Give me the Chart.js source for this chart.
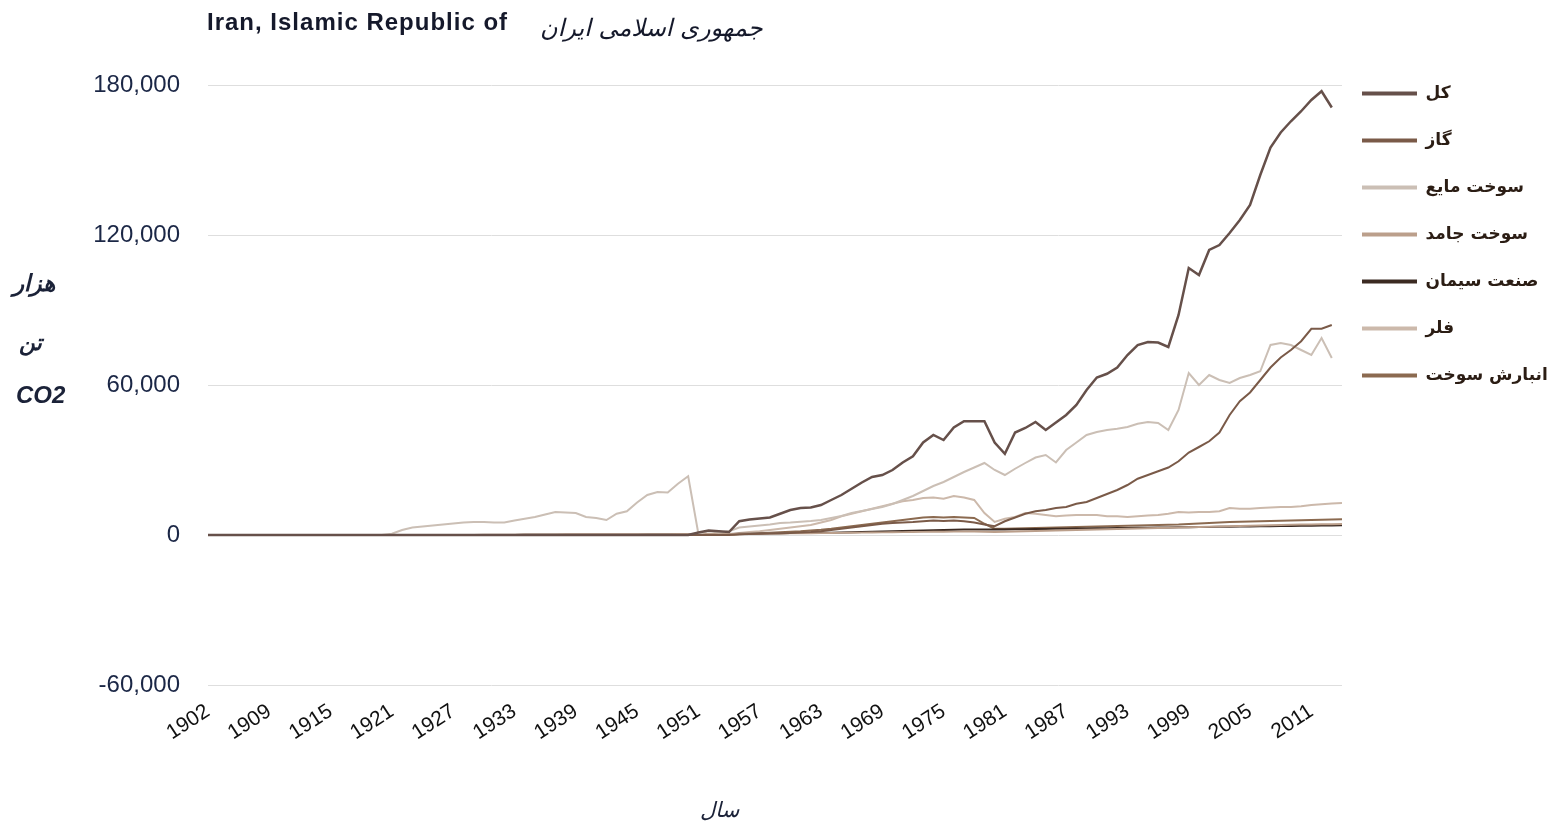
<!DOCTYPE html>
<html>
<head>
<meta charset="utf-8">
<script src="https://cdn.jsdelivr.net/npm/chart.js@4.4.0/dist/chart.umd.min.js"></script>
<style>
  html, body { margin: 0; padding: 0; background: #fff; }
  #wrap { position: relative; width: 1552px; height: 829px; }
  .t { position: absolute; white-space: nowrap; color: #1b2238; }
</style>
</head>
<body>
<div id="wrap">
  <canvas id="chart" width="1552" height="829"></canvas>
  <div class="t" style="left:207px;top:8px;font:bold 24px 'Liberation Sans',Arial,sans-serif;letter-spacing:1px;color:#15192b;">Iran, Islamic Republic of</div>
  <div class="t" dir="rtl" style="left:540px;top:14px;font:italic 24px 'DejaVu Sans',sans-serif;color:#15192b;">جمهوری اسلامی ایران</div>
  <div class="t" dir="rtl" style="left:13px;top:270px;font:italic bold 23px 'DejaVu Sans',sans-serif;">هزار</div>
  <div class="t" dir="rtl" style="left:19px;top:330px;font:italic bold 22px 'DejaVu Sans',sans-serif;">تن</div>
  <div class="t" style="left:16px;top:381px;font:italic bold 24px 'Liberation Sans',Arial,sans-serif;">CO2</div>
  <div class="t" dir="rtl" style="left:700px;top:798px;font:italic 21px 'DejaVu Sans',sans-serif;">سال</div>
</div>
<script>
// categories (the source skips 1903)
const years = [1902, 1904, 1905, 1906, 1907, 1908, 1909,
  1910, 1911, 1912, 1913, 1914, 1915, 1916, 1917, 1918, 1919,
  1920, 1921, 1922, 1923, 1924, 1925, 1926, 1927, 1928, 1929,
  1930, 1931, 1932, 1933, 1934, 1935, 1936, 1937, 1938, 1939,
  1940, 1941, 1942, 1943, 1944, 1945, 1946, 1947, 1948, 1949,
  1950, 1951, 1952, 1953, 1954, 1955, 1956, 1957, 1958, 1959,
  1960, 1961, 1962, 1963, 1964, 1965, 1966, 1967, 1968, 1969,
  1970, 1971, 1972, 1973, 1974, 1975, 1976, 1977, 1978, 1979,
  1980, 1981, 1982, 1983, 1984, 1985, 1986, 1987, 1988, 1989,
  1990, 1991, 1992, 1993, 1994, 1995, 1996, 1997, 1998, 1999,
  2000, 2001, 2002, 2003, 2004, 2005, 2006, 2007, 2008, 2009,
  2010, 2011, 2012, 2013, 2014];

// thousand tonnes CO2
const total = [0, 0, 0, 0, 0, 0, 0,
  0, 0, 0, 0, 0, 0, 0, 0, 0, 0,
  0, 0, 0, 0, 0, 0, 0, 0, 0, 0,
  0, 0, 0, 0, 0, 0, 0, 0, 0, 0,
  0, 0, 0, 0, 0, 0, 0, 0, 0, 0,
  0, 1000, 1800, 1500, 1200, 5500, 6200, 6600, 7000, 8500,
  10000, 10800, 11000, 12000, 14000, 16000, 18500, 21000, 23200, 24000,
  26000, 29000, 31500, 37000, 40000, 38000, 43000, 45500, 45500, 45500,
  37000, 32500, 41000, 42800, 45200, 42000, 45000, 48000, 52000, 58000,
  63000, 64500, 67000, 72000, 76000, 77200, 77000, 75200, 88000, 106800,
  104000, 114000, 116000, 120800, 126000, 132000, 144000, 155000, 161000, 165500,
  169500, 174000, 177500, 171000, null];

const gas = [0, 0, 0, 0, 0, 0, 0,
  0, 0, 0, 0, 0, 0, 0, 0, 0, 0,
  0, 0, 0, 0, 0, 0, 0, 0, 0, 0,
  0, 0, 0, 0, 0, 0, 0, 0, 0, 0,
  0, 0, 0, 0, 0, 0, 0, 0, 0, 0,
  0, 0, 0, 0, 0, 300, 400, 500, 600, 700,
  800, 1000, 1200, 1500, 2000, 2500, 3000, 3500, 4000, 4500,
  4800, 5000, 5200, 5500, 5800, 5600, 5800, 5500, 5000, 4200,
  3500, 5500, 7000, 8500, 9500, 10000, 10800, 11200, 12500, 13200,
  14800, 16400, 18000, 20000, 22500, 24000, 25500, 27000, 29500, 33000,
  35200, 37500, 41000, 48000, 53500, 57000, 62000, 67000, 71000, 74000,
  77500, 82500, 82500, 84000, null];

const liquid = [0, 0, 0, 0, 0, 0, 0,
  0, 0, 0, 0, 0, 0, 0, 0, 0, 0,
  0, 500, 2000, 3000, 3400, 3800, 4200, 4600, 5000, 5200,
  5200, 5000, 5000, 5800, 6500, 7200, 8200, 9200, 9000, 8800,
  7200, 6800, 6000, 8500, 9500, 13000, 16000, 17200, 17000, 20500,
  23500, 500, 1500, 1000, 1500, 3000, 3400, 3800, 4200, 4800,
  5000, 5300, 5600, 6000, 6800, 7600, 8800, 9600, 10400, 11200,
  12400, 14000, 15600, 17600, 19600, 21200, 23200, 25200, 27000, 28800,
  26000, 24000, 26500, 28800, 31000, 32000, 29000, 34000, 37000, 40000,
  41200, 42000, 42500, 43200, 44500, 45200, 44800, 42000, 50000, 64800,
  60000, 64000, 62000, 60800, 62800, 64000, 65500, 76000, 76800, 76000,
  74000, 72000, 78800, 70800, null];

const solid = [0, 0, 0, 0, 0, 0, 0,
  0, 0, 0, 0, 0, 0, 0, 0, 0, 0,
  0, 0, 0, 0, 0, 0, 0, 0, 0, 0,
  100, 100, 150, 150, 200, 200, 250, 250, 300, 300,
  300, 300, 300, 300, 300, 300, 300, 350, 350, 400,
  400, 400, 400, 450, 450, 500, 500, 550, 600, 600,
  650, 700, 700, 750, 800, 850, 900, 950, 1000, 1050,
  1100, 1150, 1200, 1250, 1300, 1300, 1350, 1400, 1400, 1300,
  1200, 1300, 1400, 1500, 1600, 1700, 1800, 1900, 2000, 2100,
  2200, 2300, 2400, 2500, 2600, 2700, 2800, 2900, 3000, 3100,
  3200, 3300, 3400, 3500, 3600, 3700, 3800, 3900, 4000, 4100,
  4200, 4200, 4300, 4300, 4400];

const cement = [0, 0, 0, 0, 0, 0, 0,
  0, 0, 0, 0, 0, 0, 0, 0, 0, 0,
  0, 0, 0, 0, 0, 0, 0, 0, 0, 0,
  0, 0, 0, 50, 80, 100, 120, 150, 150, 150,
  150, 150, 150, 150, 150, 150, 200, 200, 250, 250,
  300, 300, 350, 400, 450, 500, 550, 600, 650, 700,
  750, 800, 850, 900, 950, 1000, 1100, 1200, 1300, 1400,
  1500, 1600, 1700, 1800, 1900, 2000, 2100, 2200, 2200, 2200,
  2200, 2200, 2300, 2300, 2400, 2400, 2500, 2500, 2600, 2600,
  2700, 2700, 2800, 2800, 2900, 2900, 3000, 3000, 3100, 3100,
  3200, 3200, 3300, 3300, 3400, 3400, 3500, 3500, 3600, 3600,
  3700, 3700, 3800, 3800, 3900];

const flaring = [0, 0, 0, 0, 0, 0, 0,
  0, 0, 0, 0, 0, 0, 0, 0, 0, 0,
  0, 0, 0, 0, 0, 0, 0, 0, 0, 0,
  0, 0, 0, 0, 0, 0, 0, 0, 0, 0,
  0, 0, 0, 0, 0, 0, 0, 0, 0, 0,
  0, 0, 0, 0, 0, 800, 1200, 1500, 2000, 2500,
  3000, 3500, 4000, 5000, 6000, 7500, 8500, 9500, 10500, 11500,
  12500, 13500, 14000, 14800, 15000, 14500, 15600, 15000, 14000, 8800,
  5200, 6500, 7200, 8800, 8500, 8000, 7500, 7800, 8000, 8000,
  8000, 7500, 7500, 7200, 7500, 7800, 8000, 8500, 9200, 9000,
  9200, 9200, 9500, 10800, 10500, 10500, 10800, 11000, 11200, 11200,
  11500, 12000, 12300, 12600, 12800];

const bunker = [0, 0, 0, 0, 0, 0, 0,
  0, 0, 0, 0, 0, 0, 0, 0, 0, 0,
  0, 0, 0, 0, 0, 0, 0, 0, 0, 0,
  0, 0, 0, 0, 0, 0, 0, 0, 0, 0,
  0, 0, 0, 0, 0, 0, 0, 0, 0, 0,
  0, 0, 0, 0, 0, 300, 500, 700, 900, 1100,
  1300, 1500, 1800, 2100, 2500, 3000, 3500, 4000, 4500, 5000,
  5500, 6000, 6500, 7000, 7200, 7000, 7200, 7000, 6800, 4500,
  2500, 2500, 2600, 2700, 2800, 2900, 3000, 3100, 3200, 3300,
  3400, 3500, 3600, 3700, 3800, 3900, 4000, 4100, 4200, 4400,
  4600, 4800, 5000, 5200, 5300, 5400, 5500, 5600, 5700, 5800,
  5900, 6000, 6100, 6200, 6300];

const seriesNames = ['کل', 'گاز', 'سوخت مایع', 'سوخت جامد', 'صنعت سیمان', 'فلر', 'انبارش سوخت'];
const seriesColors = ['#66504a', '#7a5a48', '#cbbfb5', '#bb9f8b', '#3b2a22', '#ccb9ab', '#8b6a50'];
const yTicks = [-60000, 0, 60000, 120000, 180000];

Chart.defaults.font.family = "'Liberation Sans', Arial, sans-serif";

const seriesData = [total, gas, liquid, solid, cement, flaring, bunker];

// legend box placement tweaks
const legendPlace = {
  id: 'legendPlace',
  beforeLayout(chart) {
    const lg = chart.legend;
    if (lg && !lg._patched) {
      const fit = lg.fit;
      lg.fit = function () { fit.call(this); this.width = 210; };
      lg._patched = true;
    }
  },
  afterLayout(chart) {
    const lg = chart.legend;
    lg.left = chart.chartArea.right - 10;
    lg.right = lg.left + 220;
    lg.top = 55;
  }
};

new Chart(document.getElementById('chart'), {
  type: 'line',
  data: {
    labels: years,
    datasets: seriesData.map((d, i) => ({
      label: seriesNames[i],
      data: d,
      borderColor: seriesColors[i],
      backgroundColor: seriesColors[i],
      borderWidth: i === 0 ? 2.5 : 2,
      pointRadius: 0,
      tension: 0
    }))
  },
  options: {
    responsive: false,
    animation: false,
    layout: { padding: { top: 85, left: 0, right: 0, bottom: 0 } },
    plugins: {
      tooltip: { enabled: false },
      legend: {
        position: 'right',
        align: 'start',
        labels: {
          usePointStyle: true,
          pointStyle: 'line',
          pointStyleWidth: 55,
          padding: 30,
          color: '#2b1d14',
          font: { family: "'DejaVu Sans', sans-serif", weight: 'bold', size: 17 },
          generateLabels(chart) {
            const items = Chart.defaults.plugins.legend.labels.generateLabels(chart);
            items.forEach(it => { it.lineWidth = 4; });
            return items;
          }
        }
      }
    },
    scales: {
      x: {
        grid: { display: false },
        border: { display: false },
        ticks: {
          autoSkip: false,
          maxRotation: 33,
          minRotation: 33,
          padding: 6,
          color: '#111',
          font: { size: 21 },
          callback(v, i) { return i % 6 === 0 ? this.getLabelForValue(v) : ''; }
        },
        afterFit(s) { s.height = 144; }
      },
      y: {
        min: -60000,
        max: 180000,
        afterBuildTicks(s) { s.ticks = yTicks.map(v => ({ value: v })); },
        grid: { color: '#dedede', drawTicks: false },
        border: { display: false },
        ticks: {
          padding: 28,
          color: '#1b2746',
          font: { size: 24 },
          callback: v => v.toLocaleString('en-US')
        },
        afterFit(s) { s.width = 208; }
      }
    }
  },
  plugins: [legendPlace]
});
</script>
</body>
</html>
